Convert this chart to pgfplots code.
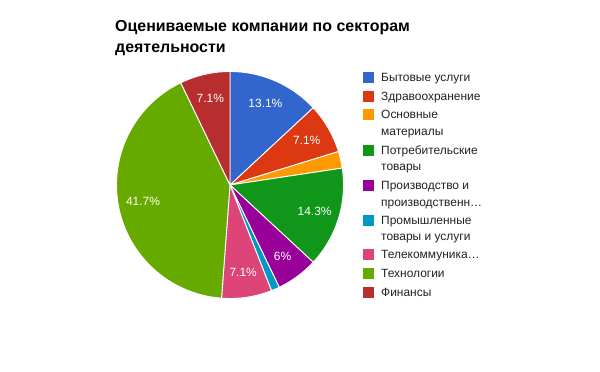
\documentclass[border=0pt]{standalone}
\usepackage{pgfplots}
\pgfplotsset{compat=1.18}
\usepackage{pgfplotstable}
\usepackage{fontspec}
\setmainfont{Liberation Sans}
\definecolor{c1}{HTML}{3366CC}
\definecolor{c2}{HTML}{DC3912}
\definecolor{c3}{HTML}{FF9900}
\definecolor{c4}{HTML}{109618}
\definecolor{c5}{HTML}{990099}
\definecolor{c6}{HTML}{0099C6}
\definecolor{c7}{HTML}{DD4477}
\definecolor{c8}{HTML}{66AA00}
\definecolor{c9}{HTML}{B82E2E}
\definecolor{legtext}{HTML}{222222}

% companies per sector
\pgfplotstableread{
value color
11 c1
6  c2
2  c3
12 c4
5  c5
1  c6
6  c7
35 c8
6  c9
}\piedata

\begin{document}
\begin{tikzpicture}[x=1bp,y=1bp]
\path[fill=white] (0,0) rectangle (600,371);

\node[anchor=base west, inner sep=0, font=\fontsize{16}{20}\selectfont\bfseries] at (115,339.5) {Оцениваемые компании по секторам};
\node[anchor=base west, inner sep=0, font=\fontsize{16}{20}\selectfont\bfseries] at (115,319) {деятельности};

\begin{axis}[at={(230bp,186bp)}, anchor=center, scale only axis,
  width=227bp, height=227bp, hide axis, clip=false,
  xmin=-1, xmax=1, ymin=-1, ymax=1]
\def\total{0}
\pgfplotsforeachungrouped \i in {0,...,8}{%
  \pgfplotstablegetelem{\i}{value}\of\piedata
  \pgfmathsetmacro\total{\total+\pgfplotsretval}%
}
\def\cum{0}
\pgfplotsforeachungrouped \i in {0,...,8}{%
  \pgfplotstablegetelem{\i}{value}\of\piedata \let\v\pgfplotsretval
  \pgfplotstablegetelem{\i}{color}\of\piedata \let\slicecolor\pgfplotsretval
  \pgfmathsetmacro\a{90-\cum/\total*360}%
  \pgfmathsetmacro\b{90-(\cum+\v)/\total*360}%
  \pgfmathsetmacro\m{(\a+\b)/2}%
  \pgfmathsetmacro\p{100*\v/\total}%
  \pgfmathsetmacro\lx{0.78*cos(\m)}%
  \pgfmathsetmacro\ly{0.78*sin(\m)}%
  \edef\doplot{\noexpand\addplot[fill=\slicecolor, draw=white, line width=0.9bp, domain=\b:\a, samples=80]
     ({cos(x)},{sin(x)}) -- (axis cs:0,0) -- cycle;}%
  \doplot
  \ifdim\p pt>4pt
    \edef\donode{\noexpand\node[text=white, inner sep=0, font=\noexpand\fontsize{12}{14}\noexpand\selectfont] at (axis cs:\lx,\ly)
      {\noexpand\pgfmathprintnumber[fixed,precision=1,assume math mode=true]{\p}\noexpand\%};}%
    \donode
  \fi
  \pgfmathsetmacro\cum{\cum+\v}%
}
\end{axis}

% legend
\begin{scope}[every node/.style={anchor=base west, inner sep=0, text=legtext, font=\fontsize{12}{14}\selectfont}]
\fill[c1] (363,288.5) rectangle (374,299.5); \node at (381,289.5) {Бытовые услуги};
\fill[c2] (363,269.5) rectangle (374,280.5); \node at (381,270.5) {Здравоохранение};
\fill[c3] (363,251.5) rectangle (374,262.5); \node at (381,252.5) {Основные}; \node at (381,235.5) {материалы};
\fill[c4] (363,215.5) rectangle (374,226.5); \node at (381,216.5) {Потребительские}; \node at (381,200.5) {товары};
\fill[c5] (363,180.5) rectangle (374,191.5); \node at (381,181.5) {Производство и}; \node at (381,164.5) {производственн…};
\fill[c6] (363,145.5) rectangle (374,156.5); \node at (381,146.5) {Промышленные}; \node at (381,130.5) {товары и услуги};
\fill[c7] (363,111.5) rectangle (374,122.5); \node at (381,112.5) {Телекоммуника…};
\fill[c8] (363,92.5) rectangle (374,103.5); \node at (381,93.5) {Технологии};
\fill[c9] (363,73.5) rectangle (374,84.5); \node at (381,74.5) {Финансы};
\end{scope}
\end{tikzpicture}
\end{document}
